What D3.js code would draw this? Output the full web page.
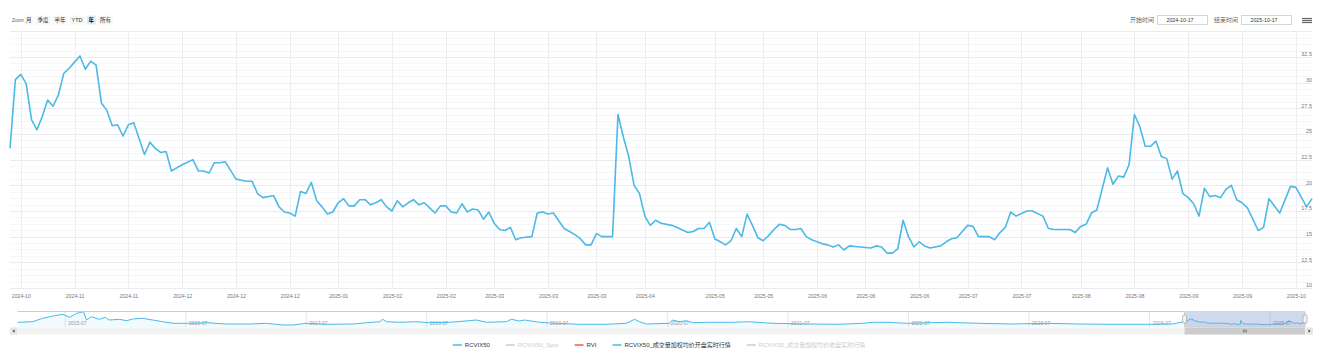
<!DOCTYPE html>
<html lang="zh">
<head>
<meta charset="UTF-8">
<title>RCVIX50</title>
<script src="https://d3js.org/d3.v7.min.js"></script>
<style>
  body { margin: 0; background: #fff; }
  svg { display: block; font-family: "Liberation Sans", "Noto Sans CJK SC", sans-serif; }
</style>
</head>
<body>
<div id="chart"></div>
<script>
// trading-day index (0 = 2024-10-17) and RCVIX50 close
var days = [0,1,2,3,4,5,6,7,8,9,10,11,12,13,14,15,16,17,18,19,20,21,22,23,25,26,27,28,29,30,31,32,34,35,36,37,38,39,40,42,43,44,45,46,47,49,50,51,52,53,54,55,56,57,58,59,60,61,62,63,64,65,66,67,68,69,70,71,72,73,74,75,76,77,78,79,80,81,82,83,84,85,86,87,88,89,90,91,92,93,94,95,97,98,99,100,101,103,104,105,106,107,108,109,110,112,113,114,115,116,117,118,119,120,121,123,124,126,127,128,129,130,131,132,133,134,135,136,137,138,139,140,141,142,143,144,145,146,147,148,149,151,152,153,154,155,156,158,160,161,162,163,164,165,166,167,168,169,170,171,173,174,175,176,177,178,179,180,182,183,184,185,186,187,189,190,192,193,194,195,197,198,199,200,201,202,204,205,206,207,208,209,210,211,212,213,214,215,216,217,218,219,220,221,222,223,224,225,226,227,228,229,230,232,233,234,236,238,239,241,242];
var rcvix = [23.6,30.3,30.8,29.9,26.4,25.4,26.7,28.3,27.7,28.8,30.9,31.4,32.0,32.6,31.3,32.1,31.7,28.0,27.3,25.8,25.9,24.8,25.9,26.1,23.0,24.2,23.6,23.2,23.3,21.4,21.7,22.0,22.5,21.4,21.4,21.2,22.2,22.2,22.3,20.6,20.5,20.4,20.4,19.2,18.8,19.0,17.9,17.4,17.3,17.0,19.4,19.2,20.3,18.5,17.9,17.2,17.4,18.3,18.7,18.0,18.0,18.6,18.6,18.1,18.3,18.6,17.9,17.5,18.5,17.9,18.3,18.6,18.1,18.3,17.8,17.3,18.0,18.0,17.4,17.3,18.2,17.4,17.7,17.6,16.7,17.4,16.3,15.7,15.6,15.9,14.7,14.9,15.0,17.3,17.4,17.2,17.3,15.8,15.5,15.2,14.8,14.2,14.2,15.3,15.0,15.0,26.9,24.7,22.8,20.0,19.2,17.0,16.1,16.6,16.3,16.1,15.9,15.4,15.5,15.8,15.8,16.4,14.8,14.5,14.2,14.6,15.8,15.0,17.2,16.1,14.9,14.6,15.1,15.7,16.2,16.1,15.7,15.7,15.8,15.0,14.7,14.3,14.2,14.0,14.2,13.7,14.1,14.0,13.9,14.1,14.0,13.4,13.4,13.8,16.6,15.0,14.0,14.5,14.1,13.9,14.1,14.5,14.8,14.9,15.5,16.1,16.0,15.0,15.0,14.7,15.4,15.9,17.4,17.0,17.5,17.5,17.0,15.8,15.7,15.7,15.7,15.4,16.0,16.2,17.3,17.6,21.7,20.1,20.9,20.8,22.0,26.9,25.7,23.8,23.8,24.3,22.8,22.6,20.6,21.4,19.2,18.8,18.2,17.0,19.7,18.9,19.0,18.8,19.6,20.0,18.6,18.3,17.8,15.6,15.9,18.7,17.3,19.9,19.8,17.9,18.7];

var tickDays = [2,12,22,32,42,52,61,71,81,90,100,109,118,131,140,150,159,169,178,188,199,209,219,229,239];
var tickLabels = ["2024-10","2024-11","2024-11","2024-12","2024-12","2024-12","2025-01","2025-02","2025-02","2025-03","2025-03","2025-03","2025-04","2025-05","2025-05","2025-06","2025-06","2025-06","2025-07","2025-07","2025-08","2025-08","2025-09","2025-09","2025-10"];
var yTicks = [10, 12.5, 15, 17.5, 20, 22.5, 25, 27.5, 30, 32.5];

// older history shown only in the navigator
var navDates = ["2015-02-08","2015-03-26","2015-04-25","2015-05-26","2015-06-25","2015-07-16","2015-08-06","2015-08-27","2015-09-05","2015-09-20","2015-10-14","2015-11-01","2015-11-13","2015-12-13","2016-01-05","2016-01-23","2016-02-22","2016-03-24","2016-04-23","2016-05-24","2016-07-05","2016-09-04","2016-11-03","2017-01-12","2017-03-04","2017-04-22","2017-05-22","2017-07-04","2017-09-03","2017-11-21","2018-01-01","2018-02-10","2018-02-19","2018-03-03","2018-04-11","2018-06-01","2018-07-11","2018-09-10","2018-11-09","2018-11-30","2018-12-31","2019-03-01","2019-03-16","2019-04-10","2019-04-25","2019-06-10","2019-07-31","2019-10-09","2019-12-29","2020-02-28","2020-03-24","2020-04-08","2020-04-29","2020-07-08","2020-07-17","2020-08-07","2020-08-28","2020-09-16","2020-10-28","2021-01-15","2021-03-07","2021-05-16","2021-08-27","2021-12-05","2022-02-13","2022-03-15","2022-05-06","2022-06-26","2022-10-25","2023-02-02","2023-05-13","2023-08-24","2023-12-02","2024-03-11","2024-06-23","2024-09-10"];
var navHistory = [21.2,23.1,33.9,41.2,46.5,37.0,49.7,54.8,28.5,38.9,30.7,37.0,28.5,30.7,26.3,31.7,33.9,28.5,23.1,18.0,18.0,19.9,15.8,15.8,18.0,12.7,12.7,18.0,14.9,15.8,19.9,23.1,30.7,23.1,21.2,23.1,19.9,21.2,26.3,28.5,21.2,23.1,30.7,25.3,28.5,21.2,18.0,14.9,14.9,18.0,30.7,23.1,15.8,18.0,28.5,23.1,26.3,19.9,21.2,21.2,23.1,18.0,15.8,14.9,18.0,21.2,21.0,18.0,21.2,18.0,15.8,18.0,15.8,14.9,14.9,15.8];
var navTicks = ["2015-07","2016-07","2017-07","2018-07","2019-07","2020-07","2021-07","2022-07","2023-07","2024-07","2025-07"];

var rangeButtons = ["月", "季度", "半年", "YTD", "年", "所有"];
var selectedButton = 4;
var inputLabels = ["开始时间", "结束时间"];
var inputDates = ["2024-10-17", "2025-10-17"];

var legendNames = ["RCVIX50", "RCVIX50_Spot", "RVI", "RCVIX50_成交量加权均价开盘实时行情", "RCVIX50_成交量加权均价收盘实时行情"];
var legendColors = ["#4cb9e7", "#cccccc", "#f45b5b", "#4cb9e7", "#cccccc"];
var legendVisible = [true, false, true, true, false];

var lineColor = "#4cb9e7";

var svg = d3.select("#chart").append("svg")
    .attr("width", 1323)
    .attr("height", 357);

var x = d3.scaleLinear().domain([0, 242]).range([10, 1312]),
    y = d3.scaleLinear().domain([10, 35]).range([288, 31.3]);

// grid lines
var grid = svg.append("g");
grid.selectAll(".minor")
    .data(d3.range(10, 35.001, 0.625))
    .enter().append("line")
    .attr("x1", 10).attr("x2", 1312)
    .attr("y1", function(d) { return Math.round(y(d)) + 0.5; })
    .attr("y2", function(d) { return Math.round(y(d)) + 0.5; })
    .attr("stroke", "#f5f6f7");
grid.selectAll(".major")
    .data(yTicks.concat([35]))
    .enter().append("line")
    .attr("x1", 10).attr("x2", 1312)
    .attr("y1", function(d) { return Math.round(y(d)) + 0.5; })
    .attr("y2", function(d) { return Math.round(y(d)) + 0.5; })
    .attr("stroke", "#eaebee");
grid.selectAll(".vert")
    .data(tickDays)
    .enter().append("line")
    .attr("x1", function(d) { return Math.round(x(d)) + 0.5; })
    .attr("x2", function(d) { return Math.round(x(d)) + 0.5; })
    .attr("y1", y(35)).attr("y2", y(10))
    .attr("stroke", "#eceef3");

// x axis labels
var xAxis = svg.append("g")
    .attr("transform", "translate(0,288)")
    .call(d3.axisBottom(x).tickValues(tickDays)
        .tickFormat(function(d, i) { return tickLabels[i]; })
        .tickSize(0).tickPadding(6));
xAxis.select(".domain").remove();
xAxis.attr("font-family", null).attr("font-size", 5.2);
xAxis.selectAll("text").attr("fill", "#777");

// y axis labels, inside the plot on the right
var yAxis = svg.append("g")
    .attr("transform", "translate(1312,-3)")
    .call(d3.axisLeft(y).tickValues(yTicks)
        .tickFormat(function(d) { return String(d); })
        .tickSize(0).tickPadding(0));
yAxis.select(".domain").remove();
yAxis.attr("font-family", null).attr("font-size", 5.5);
yAxis.selectAll("text").attr("fill", "#777");

// main line
var series = days.map(function(d, i) { return {day: d, value: rcvix[i]}; });
var line = d3.line()
    .x(function(d) { return x(d.day); })
    .y(function(d) { return y(d.value); });
svg.append("path")
    .datum(series)
    .attr("d", line)
    .attr("fill", "none")
    .attr("stroke", lineColor)
    .attr("stroke-width", 1.6)
    .attr("stroke-linejoin", "round");

// navigator
var parse = d3.timeParse("%Y-%m-%d");
var rangeFrom = parse(inputDates[0]), rangeTo = parse(inputDates[1]);
var navX = d3.scaleTime().domain([parse("2015-01-16"), rangeTo]).range([10, 1305]),
    navY = d3.scaleLinear().domain([0, 57]).range([329, 311]),
    navDay = d3.scaleLinear().domain(x.domain()).range([navX(rangeFrom), navX(rangeTo)]);
var navTop = 311, navBottom = 327;
var navLeft = navX(parse(navDates[0])), navRight = navX(rangeTo);

var navAxis = svg.append("g")
    .attr("transform", "translate(0," + navTop + ")")
    .call(d3.axisBottom(navX)
        .tickValues(navTicks.map(function(d) { return parse(d + "-01"); }))
        .tickFormat(function(d, i) { return navTicks[i]; })
        .tickSize(navBottom - navTop));
navAxis.select(".domain").remove();
navAxis.attr("font-family", null).attr("font-size", 5);
navAxis.selectAll("line").attr("stroke", "#e6e6e6");
navAxis.selectAll("text")
    .attr("text-anchor", "start").attr("x", 3).attr("y", 14).attr("dy", null)
    .attr("fill", "#999");

var navPts = navDates.map(function(d, i) { return {px: navX(parse(d)), v: navHistory[i]}; })
    .concat(series.map(function(d) { return {px: navDay(d.day), v: d.value}; }));
svg.append("path")
    .datum(navPts)
    .attr("d", d3.area().x(function(d) { return d.px; }).y0(navBottom).y1(function(d) { return navY(d.v); }))
    .attr("fill", lineColor).attr("fill-opacity", 0.08);
svg.append("path")
    .datum(navPts)
    .attr("d", d3.line().x(function(d) { return d.px; }).y(function(d) { return navY(d.v); }))
    .attr("fill", "none").attr("stroke", lineColor).attr("stroke-width", 1);

var selL = navX(rangeFrom), selR = navX(rangeTo);
svg.append("rect")
    .attr("x", selL).attr("y", navTop).attr("width", selR - selL).attr("height", navBottom - navTop)
    .attr("fill", "rgba(102,133,194,0.3)");
svg.append("path")
    .attr("d", "M" + navLeft + "," + (navTop + 0.5) + "H" + selL + "V" + navBottom + "H" + selR + "V" + (navTop + 0.5) + "H" + navRight)
    .attr("fill", "none").attr("stroke", "#cccccc").attr("stroke-width", 1);
[selL, selR].forEach(function(hx) {
    svg.append("rect")
        .attr("x", hx - 2).attr("y", 315).attr("width", 4).attr("height", 8).attr("rx", 1)
        .attr("fill", "#f2f2f2").attr("stroke", "#999").attr("stroke-width", 0.6);
});

// scrollbar
svg.append("rect").attr("x", 10).attr("y", 327.5).attr("width", 1303).attr("height", 7).attr("fill", "#f2f2f2");
svg.append("rect").attr("x", selL).attr("y", 327.5).attr("width", selR - selL).attr("height", 7).attr("fill", "#cccccc");
[-1.5, 0, 1.5].forEach(function(o) {
    var cx = (selL + selR) / 2 + o;
    svg.append("line").attr("x1", cx).attr("x2", cx).attr("y1", 329.5).attr("y2", 332.5)
        .attr("stroke", "#333").attr("stroke-width", 0.5);
});
svg.append("rect").attr("x", 10).attr("y", 327.5).attr("width", 7).attr("height", 7).attr("fill", "#e6e6e6");
svg.append("rect").attr("x", 1306).attr("y", 327.5).attr("width", 7).attr("height", 7).attr("fill", "#e6e6e6");
svg.append("path").attr("d", "M14.5,329.5L12.5,331L14.5,332.5Z").attr("fill", "#333");
svg.append("path").attr("d", "M1308.5,329.5L1310.5,331L1308.5,332.5Z").attr("fill", "#333");

// range selector buttons
var rs = svg.append("g");
rs.append("text").attr("x", 12).attr("y", 20).attr("dy", "0.35em")
    .attr("font-size", 5).attr("fill", "#666").text("Zoom");
var bx = 24;
rangeButtons.forEach(function(label, i) {
    var sel = i === selectedButton;
    var rect = rs.append("rect");
    var t = rs.append("text")
        .attr("y", 20).attr("dy", "0.35em").attr("text-anchor", "middle")
        .attr("font-size", 5.5)
        .attr("font-weight", sel ? "bold" : null)
        .attr("fill", sel ? "#000" : "#333")
        .text(label);
    var w = t.node().getComputedTextLength() + 4;
    rect.attr("x", bx).attr("y", 15.5).attr("width", w).attr("height", 9).attr("rx", 1)
        .attr("fill", sel ? "#e6ebf5" : "#f7f7f7");
    t.attr("x", bx + w / 2);
    bx += w + 2;
});

// date inputs
[1157, 1241].forEach(function(boxX, i) {
    svg.append("text")
        .attr("x", boxX - 3).attr("y", 20).attr("dy", "0.35em").attr("text-anchor", "end")
        .attr("font-size", 6).attr("fill", "#666").text(inputLabels[i]);
    svg.append("rect")
        .attr("x", boxX + 0.5).attr("y", 15.5).attr("width", 50).attr("height", 9)
        .attr("fill", "#fff").attr("stroke", "#cccccc").attr("stroke-width", 0.8);
    svg.append("text")
        .attr("x", boxX + 23).attr("y", 20).attr("dy", "0.35em").attr("text-anchor", "middle")
        .attr("font-size", 5.3).attr("fill", "#333").text(inputDates[i]);
});

// menu icon
[18.5, 20.5, 22.5].forEach(function(ly) {
    svg.append("line").attr("x1", 1302).attr("x2", 1312).attr("y1", ly).attr("y2", ly)
        .attr("stroke", "#666").attr("stroke-width", 1.2);
});

// legend
var legend = svg.append("g").attr("font-size", 6);
var items = legend.selectAll("g")
    .data(legendNames)
    .enter().append("g");
items.append("line")
    .attr("x1", 0).attr("x2", 9).attr("y1", 345).attr("y2", 345)
    .attr("stroke", function(d, i) { return legendColors[i]; })
    .attr("stroke-width", 1.5);
items.append("text")
    .attr("x", 12).attr("y", 345).attr("dy", "0.35em")
    .attr("fill", function(d, i) { return legendVisible[i] ? "#333" : "#cccccc"; })
    .text(function(d) { return d; });
var widths = [];
items.selectAll("text").each(function() { widths.push(this.getComputedTextLength()); });
var gap = 16;
var total = d3.sum(widths) + widths.length * 12 + gap * (widths.length - 1);
var lx = 659 - total / 2;
items.attr("transform", function(d, i) {
    var t = "translate(" + lx + ",0)";
    lx += 12 + widths[i] + gap;
    return t;
});
</script>
</body>
</html>
